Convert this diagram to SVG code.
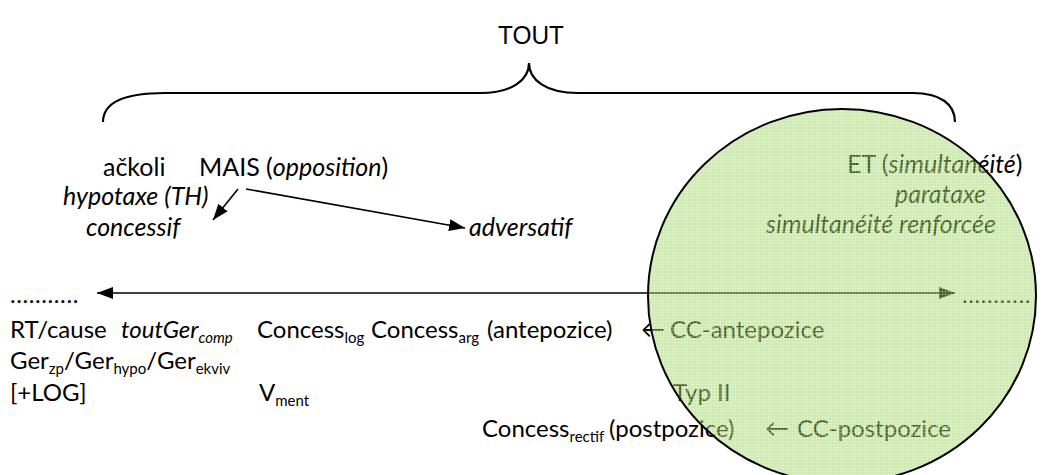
<svg xmlns="http://www.w3.org/2000/svg" width="1042" height="475" viewBox="0 0 1042 475">
<style>
text{font-family:Lato,"Liberation Sans",sans-serif;font-size:24px;fill:#000}
.it{font-style:italic}
.sub{font-size:15px}
.big{font-size:25px}
.dots{letter-spacing:0.6px}
.title{font-family:"Liberation Sans",sans-serif;font-size:26px}
.ln{stroke:#000;stroke-width:1.6;fill:none}
</style>
<defs>
<marker id="ah" viewBox="0 0 10 10" refX="10" refY="5" markerWidth="16" markerHeight="12" markerUnits="userSpaceOnUse" orient="auto-start-reverse" preserveAspectRatio="none">
<path d="M0,0 L10,5 L0,10 z" fill="#000"/>
</marker>
<pattern id="grid" width="3" height="3" patternUnits="userSpaceOnUse">
<rect width="3" height="3" fill="#92d050" fill-opacity="0.45"/>
<rect x="0" y="0" width="3" height="0.7" fill="#fff" fill-opacity="0.3"/>
<rect x="0" y="0" width="0.7" height="3" fill="#fff" fill-opacity="0.3"/>
</pattern>
</defs>

<g id="title">
<text class="title" x="531" y="44" text-anchor="middle" textLength="66" lengthAdjust="spacingAndGlyphs">TOUT</text>
</g>
<g id="brace">
<path d="M103,122 C103,102 125,93 165,93 L480,93 C512,93 529,80 529,63 C529,80 546,93 578,93 L913,93 C940,93 955,104 955,122" fill="none" stroke="#000" stroke-width="2.2"/>
</g>

<g id="n-ackoli"><text class="big" x="103" y="176">ačkoli</text></g>
<g id="n-mais"><text class="big" x="199" y="176">MAIS (<tspan class="it">opposition</tspan>)</text></g>
<g id="n-hypotaxe"><text class="it big" x="63" y="205">hypotaxe (TH)</text></g>
<g id="n-concessif"><text class="it big" x="86" y="236">concessif</text></g>
<g id="n-adversatif"><text class="it big" x="469" y="236">adversatif</text></g>

<g id="n-et"><text class="big" x="847" y="173">ET (<tspan class="it">simultanéité</tspan>)</text></g>
<g id="n-parataxe"><text class="it big" x="895" y="203">parataxe</text></g>
<g id="n-renforcee"><text class="it big" x="766" y="233">simultanéité renforcée</text></g>

<g id="n-dots-left"><text class="dots" x="10" y="303">...........</text></g>
<g id="n-dots-right"><text class="dots" x="962" y="303">...........</text></g>

<g id="n-row1">
<text x="10" y="338">RT/cause</text>
<text class="it" x="121" y="338">toutGer<tspan class="sub" dy="5">comp</tspan></text>
<text x="257" y="338">Concess<tspan class="sub" dy="5">log</tspan></text>
<text x="371" y="338">Concess<tspan class="sub" dy="5">arg</tspan></text>
<text x="487" y="338">(antepozice)</text>
<text x="641" y="338">←</text>
<text x="670" y="338">CC-antepozice</text>
</g>
<g id="n-row2">
<text x="10" y="369">Ger<tspan class="sub" dy="5">zp</tspan><tspan dy="-5">/Ger</tspan><tspan class="sub" dy="5">hypo</tspan><tspan dy="-5">/Ger</tspan><tspan class="sub" dy="5">ekviv</tspan></text>
</g>
<g id="n-row3">
<text x="10" y="401">[+LOG]</text>
<text x="259" y="401">V<tspan class="sub" dy="5">ment</tspan></text>
<text x="673" y="401">Typ II</text>
</g>
<g id="n-row4">
<text x="482" y="437">Concess<tspan class="sub" dy="5">rectif</tspan></text>
<text x="609" y="437">(postpozice)</text>
<text x="765" y="437">←</text>
<text x="797" y="437">CC-postpozice</text>
</g>

<g id="connectors">
<line class="ln" x1="238" y1="189" x2="213" y2="220" marker-end="url(#ah)"/>
<line class="ln" x1="246" y1="189" x2="465" y2="228" marker-end="url(#ah)"/>
<line class="ln" x1="97" y1="293" x2="955" y2="293" marker-start="url(#ah)" marker-end="url(#ah)"/>
</g>

<g id="n-circle">
<ellipse cx="842" cy="296" rx="194" ry="187" fill="url(#grid)" stroke="#000" stroke-width="2"/>
</g>
</svg>
